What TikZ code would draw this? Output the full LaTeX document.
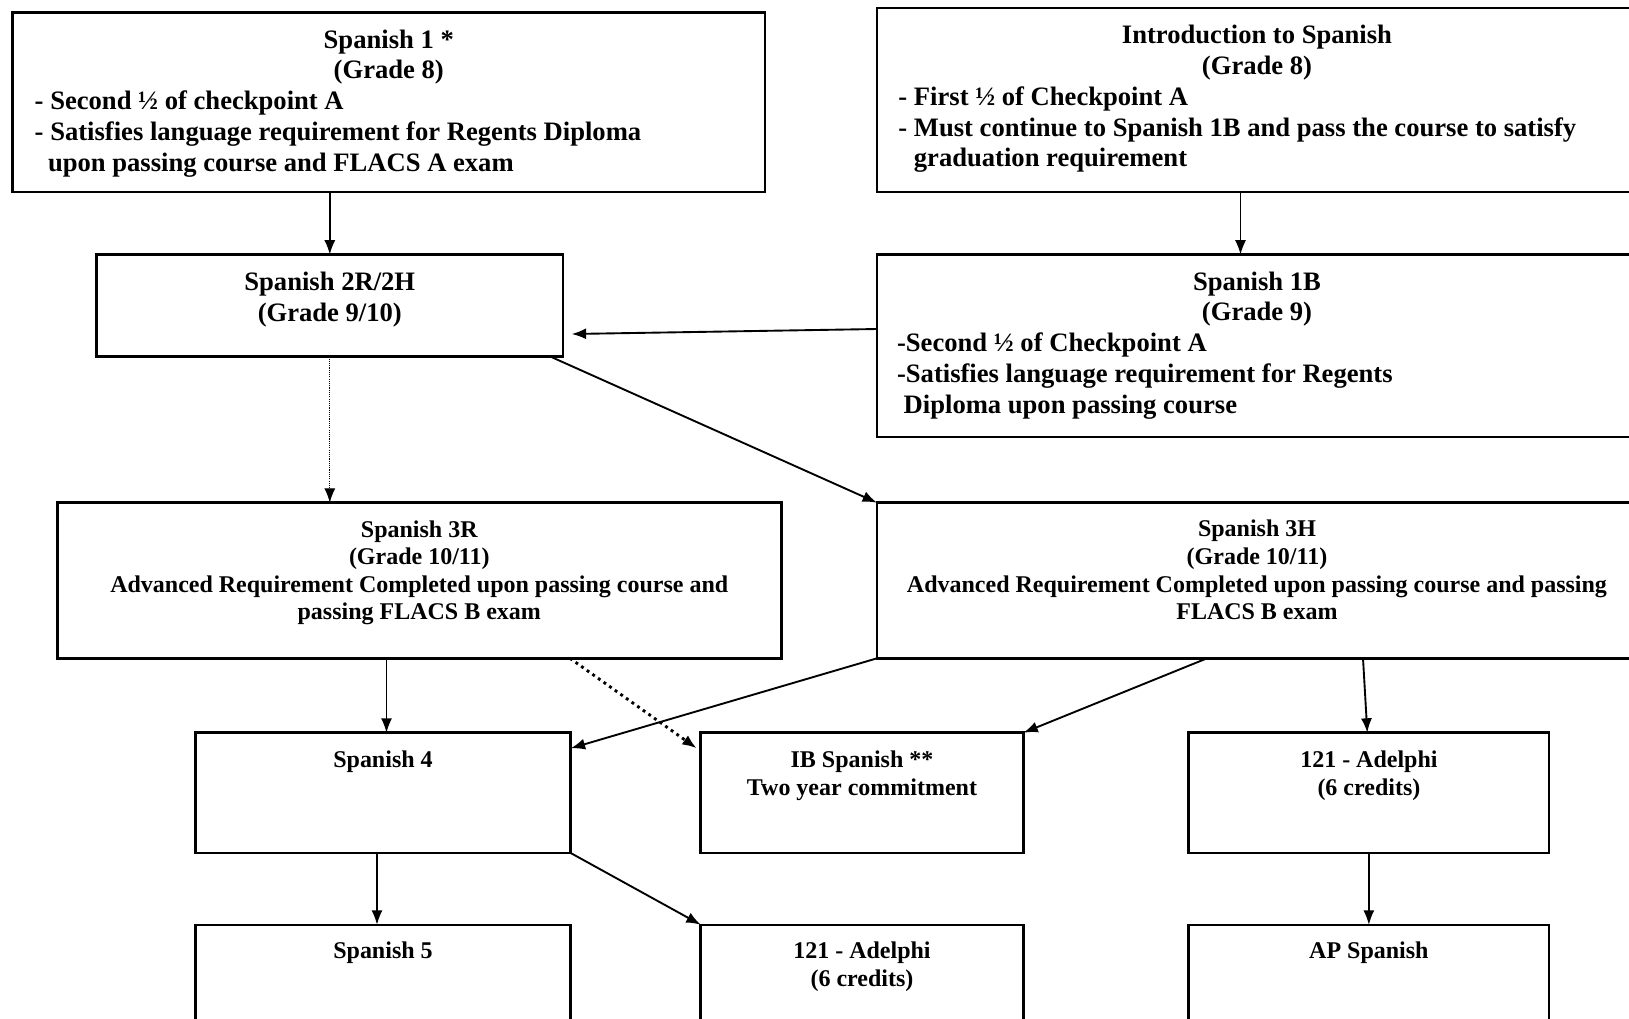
\documentclass[tikz,border=0pt]{standalone}
\usepackage{fontspec}
\setmainfont{Liberation Serif}
\usetikzlibrary{calc,arrows.meta}
\def\pxu{0.451pt}
\tikzset{
  box/.style={draw, rectangle, line width=1.1pt, inner sep=0pt, outer sep=0pt},
  bigtxt/.style={font=\fontsize{12}{13.92}\selectfont\bfseries, inner sep=0pt},
  smalltxt/.style={font=\fontsize{10.82}{12.45}\selectfont\bfseries, inner sep=0pt},
  arr/.style={-{Latex[length=6.5pt,width=5pt]}, line width=0.85pt},
  thinarr/.style={-{Latex[length=6.5pt,width=5pt]}, line width=0.7pt},
  finedots/.style={-{Latex[length=6.5pt,width=5pt]}, line width=0.6pt, dash pattern=on 0.5pt off 0.5pt},
  bigdots/.style={-{Latex[length=6.5pt,width=5pt]}, line width=1.3pt, dash pattern=on 1.3pt off 1.8pt}
}
\newcommand\bx[5]{\node[box, anchor=north west, minimum width={(#4-#2)*\pxu}, minimum height={(#5-#3)*\pxu}] (#1) at (#2,#3) {};}
\begin{document}
\begin{tikzpicture}[x=\pxu, y=-\pxu]
\useasboundingbox (0,0) rectangle (1629,1018);
\fill[white] (0,0) rectangle (1629,1018);
\clip (0,0) rectangle (1629,1018);

% boxes
\bx{A}{12.5}{12.5}{765}{192}
\bx{B}{877}{8}{1637}{192}
\bx{C}{96.6}{254.5}{563}{356.4}
\bx{D}{877}{254.5}{1637}{437}
\bx{E}{57.3}{502.7}{781.3}{658.3}
\bx{F}{877}{502.7}{1637}{658.3}
\bx{G}{195.3}{732.7}{570.7}{853}
\bx{H}{700.7}{732.7}{1023.4}{853}
\bx{I}{1188.6}{732.7}{1549.1}{853}
\bx{J}{195.3}{924.7}{570.7}{1040}
\bx{K}{700.7}{924.7}{1023.4}{1040}
\bx{L}{1188.6}{924.7}{1549.1}{1040}

% texts
\node[bigtxt, align=center, anchor=north] (At) at (388.75,47.6-26.6) {\rule{0pt}{1em}Spanish 1 *\\(Grade 8)};
\node[bigtxt, align=left, anchor=north west] (Ab) at (34.3,109.5-26.6) {\rule{0pt}{1em}- Second ½ of checkpoint A\\- Satisfies language requirement for Regents Diploma\\\hspace*{0.5em}upon passing course and FLACS A exam};

\node[bigtxt, align=center, anchor=north] (Bt) at (1257,43.3-26.6) {\rule{0pt}{1em}Introduction to Spanish\\(Grade 8)};
\node[bigtxt, align=left, anchor=north west] (Bb) at (898,104.8-26.6) {\rule{0pt}{1em}- First ½ of Checkpoint A\\- Must continue to Spanish 1B and pass the course to satisfy\\\hspace*{0.58em}graduation requirement};

\node[bigtxt, align=center, anchor=north] (Ct) at (329.8,290-26.6) {\rule{0pt}{1em}Spanish 2R/2H\\(Grade 9/10)};

\node[bigtxt, align=center, anchor=north] (Dt) at (1257,289.6-26.6) {\rule{0pt}{1em}Spanish 1B\\(Grade 9)};
\node[bigtxt, align=left, anchor=north west] (Db) at (896.6,351-26.6) {\rule{0pt}{1em}-Second ½ of Checkpoint A\\-Satisfies language requirement for Regents\\\hspace*{0.25em}Diploma upon passing course};

\node[smalltxt, align=center, anchor=north] (Et) at (419.3,536.7-24) {\rule{0pt}{1em}Spanish 3R\\(Grade 10/11)\\Advanced Requirement Completed upon passing course and\\passing FLACS B exam};
\node[smalltxt, align=center, anchor=north] (Ft) at (1257,536.5-24) {\rule{0pt}{1em}Spanish 3H\\(Grade 10/11)\\Advanced Requirement Completed upon passing course and passing\\FLACS B exam};

\node[smalltxt, align=center, anchor=north] (Gt) at (383,767-24) {\rule{0pt}{1em}Spanish 4};
\node[smalltxt, align=center, anchor=north] (Ht) at (862,767-24) {\rule{0pt}{1em}IB Spanish **\\Two year commitment};
\node[smalltxt, align=center, anchor=north] (It) at (1368.9,767-24) {\rule{0pt}{1em}121 - Adelphi\\(6 credits)};
\node[smalltxt, align=center, anchor=north] (Jt) at (383,958.5-24) {\rule{0pt}{1em}Spanish 5};
\node[smalltxt, align=center, anchor=north] (Kt) at (862,958.5-24) {\rule{0pt}{1em}121 - Adelphi\\(6 credits)};
\node[smalltxt, align=center, anchor=north] (Lt) at (1368.9,958.5-24) {\rule{0pt}{1em}AP Spanish};

% connectors
\draw[thinarr] (A.south -| C.north) -- (C.north);
\draw[thinarr] ($(B.south)+(-16.5,0)$) -- ($(D.north)+(-16.5,0)$);
\draw[arr] ($(D.north west)+(0,74.5)$) -- ($(C.north east)+(8.7,79.5)$);
\draw[finedots] (C.south) -- (E.north -| C.south);
\draw[arr] ($(C.south east)+(-13,0)$) -- (F.north west);
\draw[thinarr] ($(E.south west)+(329.2,0)$) -- ($(G.north west)+(191.2,0)$);
\draw[bigdots] ($(E.south west)+(512.7,0)$) -- ($(H.north west)+(-4,15.6)$);
\draw[arr] (F.south west) -- ($(G.north east)+(0,15.6)$);
\draw[arr] ($(F.south west)+(330,0)$) -- (H.north east);
\draw[arr] ($(F.south west)+(486,0)$) -- ($(I.north west)+(178.7,0)$);
\draw[thinarr] ($(G.south west)+(181.7,0)$) -- ($(J.north west)+(181.7,0)$);
\draw[arr] (G.south east) -- (K.north west);
\draw[thinarr] (I.south) -- (L.north);
\end{tikzpicture}
\end{document}
